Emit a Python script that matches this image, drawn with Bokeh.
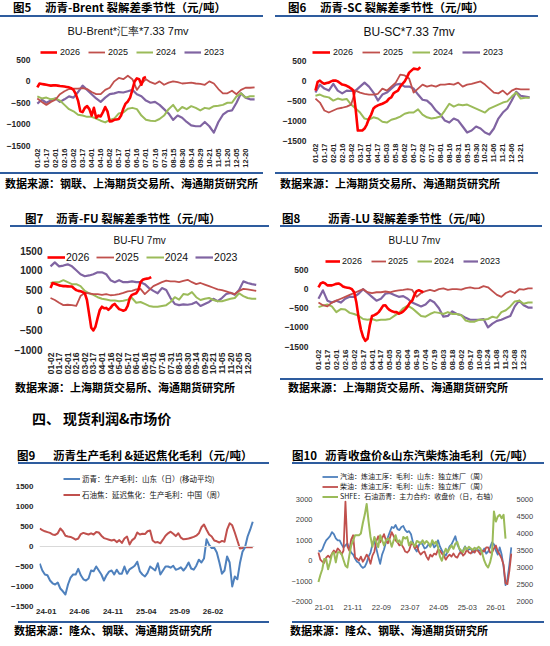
import math
import numpy as np
from bokeh.plotting import figure
from bokeh.models import Range1d, FixedTicker, Legend, LegendItem, Div, Span, LinearAxis
from bokeh.layouts import column, row
from bokeh.embed import file_html
from bokeh.resources import INLINE

# ---------------- data ----------------
labels_a = ["01-02", "01-17", "02-01", "02-16", "03-02", "03-17", "04-01", "04-16", "05-02", "05-17",
            "06-01", "06-16", "07-01", "07-16", "07-31", "08-15", "08-30", "09-14", "09-29", "10-21",
            "11-05", "11-20", "12-05", "12-20"]
labels_sc = ["01-02", "01-17", "02-01", "02-16", "03-02", "03-17", "04-01", "04-17", "05-03", "05-18",
             "06-02", "06-17", "07-02", "07-17", "08-01", "08-16", "08-31", "09-15", "09-30", "10-22",
             "11-06", "11-21", "12-06", "12-21"]
labels_lu = ["01-02", "01-17", "02-01", "02-16", "03-02", "03-17", "04-01", "04-17", "05-05", "05-20",
             "06-04", "06-19", "07-04", "07-19", "08-03", "08-18", "09-02", "09-17", "10-09", "10-24",
             "11-08", "11-23", "12-08", "12-23"]
year_names = ["2026", "2025", "2024", "2023"]

# Fig5 BU-Brent (2026 sampled every quarter tick, other years every half tick)
brent_2026 = [-140, -50, -60, -70, -80, -90, -100, -95, -90, -100, -110, -115, -120, -130, -140, -160,
              -200, -300, -450, -700, -720, -620, -580, -650, -800, -620, -850, -800, -820, -720, -600,
              -700, -940, -930, -900, -890, -880, -800, -640, -520, -470, -380, -200, 0, 70, 50, -80, 80, 100]
brent_2025 = [-400, -480, -550, -480, -430, -300, -230, -180, -170, -170, -160, -180, -250, -300, -300,
              -200, -150, 0, 80, 50, 130, 50, -200, -50, 50, -20, -60, 0, -80, -30, 0, -20, -50, -40, -30,
              -50, -60, -80, 0, -50, -180, -280, -280, -220, -300, -200, -150, -150, -140]
brent_2024 = [-350, -400, -380, -420, -400, -450, -550, -650, -700, -780, -800, -830, -830, -870, -920,
              -960, -900, -870, -750, -730, -640, -620, -650, -800, -900, -920, -930, -880, -800, -650,
              -550, -700, -600, -650, -580, -620, -680, -620, -640, -580, -570, -550, -500, -500, -350,
              -280, -380, -350, -350]
brent_2023 = [-520, -430, -500, -450, -400, -480, -420, -350, -380, -250, -100, -200, -300, -400, -480,
              -380, -300, -280, -250, -260, -230, -200, -300, -350, -450, -500, -480, -550, -650, -750,
              -900, -800, -850, -950, -1030, -1050, -1050, -950, -1050, -1200, -950, -780, -700, -680,
              -500, -280, -380, -420, -420]

# Fig6 BU-SC
sc_2026 = [-250, -30, 0, -50, -80, -60, -50, -20, 0, 0, -20, -60, -100, -110, -130, -160, -200, -250,
           -700, -1250, -1250, -1250, -1200, -1100, -950, -850, -700, -650, -620, -600, -580, -550, -520,
           -450, -420, -320, -280, -250, -150, -80, -20, 80, 200, 250, 300, 290, 280, 340]
sc_2025 = [-450, -550, -750, -800, -750, -700, -680, -650, -600, -250, -300, -330, -350, -350, -330, -200,
           -250, -150, -50, 150, 130, 50, -300, -200, -100, -150, -120, -150, -100, -100, -80, -100, -50,
           -150, -100, -80, -50, -20, -100, -200, -300, -320, -250, -350, -250, -200, -220, -220, -220]
sc_2024 = [-380, -350, -400, -420, -500, -450, -480, -460, -600, -700, -800, -950, -980, -920, -950, -1030,
           -1050, -980, -950, -900, -830, -800, -800, -720, -850, -920, -950, -930, -900, -750, -580, -650,
           -600, -620, -600, -650, -700, -750, -800, -700, -650, -600, -550, -520, -400, -300, -450, -430, -430]
sc_2023 = [-300, -100, -200, -250, -80, -250, -320, -250, -260, -250, -150, -50, -150, -300, -500, -350,
           -300, -200, -100, -80, -150, -150, -200, -350, -480, -500, -600, -750, -850, -1000, -1050, -950,
           -1000, -1150, -1300, -1250, -1150, -1200, -1300, -1350, -1200, -950, -800, -700, -500, -280,
           -380, -400, -420]

# Fig7 BU-FU
fu_2026 = [550, 680, 660, 640, 620, 610, 600, 600, 595, 590, 590, 540, 500, 480, 470, 450, 420, 250, -100,
           -450, -520, -420, -200, 0, 80, 40, 50, 0, 50, 120, 150, 80, 20, 0, -20, 0, 100, 300, 380, 400,
           420, 500, 700, 760, 780, 790, 800, 830]
fu_2025 = [300, 250, 180, 120, 130, 120, 100, 350, 430, 420, 400, 400, 380, 400, 370, 380, 400, 430, 470,
           480, 520, 530, 400, 500, 600, 650, 700, 740, 720, 720, 700, 730, 760, 700, 650, 680, 640, 600,
           560, 520, 500, 470, 430, 400, 480, 530, 520, 500, 480]
fu_2024 = [680, 700, 700, 750, 700, 650, 650, 600, 480, 420, 380, 320, 280, 260, 240, 240, 220, 230, 260,
           300, 180, 200, 150, 100, 80, 80, 100, 120, 200, 320, 260, 400, 380, 450, 320, 250, 280, 300,
           250, 220, 220, 250, 280, 300, 420, 350, 300, 280, 280]
fu_2023 = [1100, 1200, 1100, 1120, 1150, 1100, 1000, 900, 850, 870, 900, 950, 950, 900, 750, 700, 750,
           700, 700, 720, 700, 700, 650, 550, 480, 420, 550, 500, 300, 150, 120, 140, 130, 150, 200, 100,
           150, 200, 280, 220, 300, 400, 430, 380, 500, 720, 680, 650, 630]

# Fig8 BU-LU
lu_2026 = [50, 150, 180, 150, 100, 100, 100, 120, 140, 150, 120, 70, 50, 40, 30, 0, -80, -350, -750, -1050,
           -1250, -1350, -1300, -950, -700, -680, -650, -600, -520, -430, -420, -500, -550, -580, -600,
           -600, -640, -620, -580, -520, -450, -350, -300, -150, -50, -30, -50, -80]
lu_2025 = [-350, -420, -450, -350, -300, -250, -200, -150, -100, -50, 0, -80, -100, -80, -80, -60, -80,
           -50, -30, -20, 0, -20, -200, -100, -50, -20, -50, 0, 20, -20, 0, 0, -10, 30, 50, 20, 30, 80, 50,
           -50, -150, -200, -100, -50, -100, 0, -10, 20, 20]
lu_2024 = [-470, -430, -400, -450, -600, -520, -530, -620, -650, -700, -780, -800, -780, -820, -800, -800,
           -780, -700, -620, -500, -430, -500, -600, -700, -720, -650, -600, -620, -650, -600, -650, -650,
           -680, -820, -850, -850, -800, -800, -780, -720, -750, -600, -550, -450, -320, -300, -380, -350, -350]
lu_2023 = [-250, -30, -300, -350, -300, -350, -250, -200, -200, -120, 0, -100, -200, -300, -250, -120, -100,
           -150, -200, -180, -250, -350, -400, -450, -400, -280, -350, -500, -720, -700, -580, -650, -680,
           -750, -800, -800, -800, -780, -1000, -900, -830, -800, -750, -700, -450, -300, -420, -480, -480]

# Fig9 (months from 2024-01)
c9_start, c9_step = -0.96, 0.3843
c9_labels = {0: "24-01", 5: "24-06", 10: "24-11", 15: "25-04", 20: "25-09", 25: "26-02"}
c9_names = ["沥青：生产毛利：山东（日）(移动平均)", "石油焦：延迟焦化：生产毛利：中国（周）"]
c9_asphalt = [-430, -600, -700, -720, -850, -920, -950, -900, -1050, -1120, -1200, -950, -780, -700, -700,
              -560, -720, -820, -850, -800, -600, -620, -500, -600, -700, -850, -720, -630, -600, -700,
              -580, -680, -680, -500, -680, -570, -530, -480, -380, -620, -700, -750, -660, -500, -550,
              -600, -420, -700, -600, -500, -500, -530, -480, -580, -560, -520, -600, -520, -400, -550,
              -580, -480, -330, -400, -300, 180, 40, -40, -30, -150, -400, -680, -600, -250, -400, -1000,
              -750, -820, -420, -130, -20, 250, 420, 620]
c9_coke = [450, 410, 380, 360, 340, 300, 290, 330, 450, 380, 270, 250, 240, 210, 170, 200, 310, 340, 320,
           300, 330, 300, 360, 350, 270, 210, 190, 170, 150, 170, 110, 160, 90, 200, 250, 50, 160, 210, 350,
           300, 320, 310, 380, 400, 150, 100, 110, 80, 170, 270, 330, 370, 320, 260, 330, 220, 180, 190,
           200, 220, 240, 270, 330, 480, 550, 420, 300, 250, 150, 130, 100, 140, 120, 420, 580, 530, 350,
           150, -50, -40, -20, -10, -20, -20]

# Fig10 (months from 2021-01)
c10_start, c10_step = -2.02, 0.674
c10_labels = {0: "21-01", 10: "21-11", 20: "22-09", 30: "23-07", 40: "24-05", 50: "25-03", 60: "26-01"}
c10_names = ["汽油：炼油工序：毛利：山东：独立炼厂（周）", "柴油：炼油工序：毛利：山东：独立炼厂（周）",
             "SHFE：石油沥青：主力合约：收盘价（日，右轴）"]
c10_gasoline = [500, 450, 550, 800, 1000, 1100, 1200, 1400, 1300, 1100, 1000, 1000, 800, 650, 750, 850, 600,
                400, 300, 100, -50, -100, -250, -350, -300, -100, 200, 400, 800, 950, 600, 200, -150, 300,
                550, 900, 1150, 1400, 1650, 1600, 1750, 1550, 1500, 1650, 1700, 1500, 1400, 1450, 1300, 900,
                600, 450, 750, 900, 800, 600, 650, 800, 700, 900, 650, 750, 1000, 700, 500, 350, 250, 450,
                700, 800, 1000, 1200, 800, 600, 350, 500, 700, 500, 550, 600, 400, 500, 600, 500, 500, 400,
                600, 350, 450, 650, 900, 800, 500, 300, 650, 300, -300, -1200, -900, -200, 650]
c10_diesel = [400, 50, -50, -100, 150, 250, 150, 350, 500, 400, 600, 500, 300, 500, 2900, 700, 500, 1050,
              1250, 150, 100, 0, 200, -50, 100, 300, 150, -150, 250, 450, 950, 1200, 900, 1100, 1300, 1000,
              850, 1100, 1400, 1200, 1000, 900, 750, 800, 650, 450, 400, 500, 800, 850, 600, 750, 450, 300,
              400, 450, 200, 50, 300, 200, 350, 300, 550, 500, 350, 250, 50, 200, 300, 200, 350, 200, 150,
              350, 450, 250, 350, 550, 400, 350, 500, 400, 550, 450, 300, 500, 450, 650, 650, 400, 400, 600,
              750, 450, 300, 100, -200, -1100, -1150, -500, 350]
c10_bitumen = [2575, 2780, 2950, 3250, 3250, 2950, 3150, 3400, 3450, 3150, 3450, 3450, 3400, 3220, 3050,
               3000, 3350, 3650, 3800, 3950, 3950, 3950, 4000, 4300, 4550, 4870, 4350, 3900, 3610, 3900,
               3750, 3600, 3950, 3810, 3650, 3800, 3850, 3800, 3610, 3800, 3950, 3750, 3800, 3660, 3900,
               3850, 3900, 3650, 3760, 3700, 3620, 3780, 3750, 3700, 3800, 3700, 3780, 3720, 3610, 3800,
               3700, 3760, 3600, 3320, 3200, 3400, 3550, 3450, 3560, 3650, 3550, 3700, 3750, 3560, 3500,
               3450, 3600, 3530, 3610, 3560, 3520, 3580, 3530, 3610, 3560, 3400, 3200, 3070, 3000, 3150,
               3400, 4650, 4350, 4500, 4550, 4450, 4550, 3850]

# ---------------- styling ----------------
RULE = "#2E5C9E"
NUM_FONT = "Liberation Sans"
CJK_FONT = "Noto Sans CJK SC"
YEAR_COLORS = ["#FF0000", "#C0504D", "#9BBB59", "#8064A2"]
YEAR_WIDTHS = [2.6, 1.8, 2.0, 2.2]
TICK_COLOR = "#262626"


def base_style(p):
    p.outline_line_color = None
    p.xgrid.visible = False
    p.ygrid.visible = False
    p.background_fill_color = "white"
    p.border_fill_color = "white"
    for ax in p.axis:
        ax.axis_line_color = None
        ax.major_tick_line_color = None
        ax.minor_tick_line_color = None


def seasonal(title, xlabels, s26, s25, s24, s23, height, fl, fr, ft, fb, xr, yr, yticks,
             ysize, xsize, ystand, tsize, toff, lx, ly, lglyph, lspace, lsize, lstand):
    p = figure(width=275, height=height, output_backend="svg", toolbar_location=None,
               x_range=Range1d(*xr), y_range=Range1d(*yr),
               min_border_left=fl, min_border_right=275 - fr,
               min_border_top=ft, min_border_bottom=height - fb)
    base_style(p)
    p.title.text = title
    p.title.align = "left"
    p.title.offset = toff
    p.title.text_font = NUM_FONT
    p.title.text_font_size = f"{tsize}px"
    p.title.text_font_style = "normal"
    p.title.text_color = "#111111"

    series = [s26, s25, s24, s23]
    steps = [0.25, 0.5, 0.5, 0.5]
    rends = [None] * 4
    for i in [3, 2, 1, 0]:
        xs = np.arange(len(series[i])) * steps[i]
        rends[i] = p.line(xs, series[i], line_color=YEAR_COLORS[i], line_width=YEAR_WIDTHS[i],
                          line_join="round")
    leg = Legend(items=[LegendItem(label=year_names[i], renderers=[rends[i]]) for i in range(4)],
                 location=(lx, ly), orientation="horizontal", border_line_color=None,
                 background_fill_alpha=0, padding=0, margin=0, spacing=lspace,
                 glyph_width=lglyph, glyph_height=10, label_height=10, label_standoff=lstand,
                 label_text_font=NUM_FONT, label_text_font_size=f"{lsize}px", label_text_color="#111111")
    p.add_layout(leg)

    p.xaxis.ticker = FixedTicker(ticks=list(range(len(xlabels))))
    p.xaxis.major_label_overrides = {i: s for i, s in enumerate(xlabels)}
    p.xaxis.major_label_orientation = math.pi / 2
    p.xaxis.major_label_text_font = NUM_FONT
    p.xaxis.major_label_text_font_size = f"{xsize}px"
    p.xaxis.major_label_text_font_style = "bold"
    p.xaxis.major_label_text_color = TICK_COLOR
    p.xaxis.major_label_standoff = 3
    p.xaxis.major_tick_out = 0
    p.yaxis.ticker = FixedTicker(ticks=yticks)
    p.yaxis.major_label_text_font = NUM_FONT
    p.yaxis.major_label_text_font_size = f"{ysize}px"
    p.yaxis.major_label_text_font_style = "bold"
    p.yaxis.major_label_text_color = TICK_COLOR
    p.yaxis.major_label_standoff = ystand
    p.yaxis.major_tick_out = 0
    return p


def span_html(txt, left, cy, size, weight="bold", color="#000"):
    lh = int(round(size * 1.4))
    top = cy - lh / 2
    return (f'<span style="position:absolute;left:{left}px;top:{top}px;font-size:{size}px;'
            f'line-height:{lh}px;font-weight:{weight};font-family:\'{CJK_FONT}\',sans-serif;'
            f'color:{color};white-space:nowrap;">{txt}</span>')


def rule_html(x0, x1, y):
    return (f'<div style="position:absolute;left:{x0}px;top:{y}px;width:{x1 - x0}px;height:2px;'
            f'background:{RULE};"></div>')


def box(height, inner, width=275):
    return Div(text=f'<div style="position:relative;width:{width}px;height:{height}px;overflow:hidden;">'
                    f'{inner}</div>', width=width, height=height, margin=(0, 0, 0, 0))


HS = 11.5
SS = 11

# ---------------- row 1 ----------------
h5 = box(17, span_html("图5", 13, 7, HS) + span_html("沥青-Brent 裂解差季节性（元/吨）", 45, 7, HS)
         + rule_html(0, 263, 15))
p5 = seasonal("BU-Brent*汇率*7.33 7mv", labels_a, brent_2026, brent_2025, brent_2024, brent_2023,
              155, 35, 255, 21, 128, (-0.2, 24.1), (-1500, 932), [-1500, -1000, -500, 0, 500],
              8.5, 7.5, 5, 11, 32, 5, 88, 17, 8, 9, 3)
s5 = box(28, rule_html(0, 263, 0) + span_html("数据来源：钢联、上海期货交易所、海通期货研究所", 5, 11, SS))

h6 = box(17, span_html("图6", 13, 7, HS) + span_html("沥青-SC 裂解差季节性（元/吨）", 45, 7, HS)
         + rule_html(0, 263, 15))
p6 = seasonal("BU-SC*7.33 7mv", labels_sc, sc_2026, sc_2025, sc_2024, sc_2023,
              155, 37, 255, 21, 123, (-0.33, 24.1), (-1500, 929), [-1500, -1000, -500, 0, 500],
              8.5, 7.5, 6, 12, 51, 0, 83, 18, 9, 9, 3)
s6 = box(28, rule_html(0, 263, 0) + span_html("数据来源：上海期货交易所、海通期货研究所", 5, 11, SS))

# ---------------- row 2 ----------------
h7 = box(27, span_html("图7", 25, 18, HS) + span_html("沥青-FU 裂解差季节性（元/吨）", 56, 18, HS)
         + rule_html(10, 269, 25))
p7 = seasonal("BU-FU 7mv", labels_a, fu_2026, fu_2025, fu_2024, fu_2023,
              150, 46, 260, 20, 123, (-0.47, 24.5), (-1000, 1500), [-1000, -500, 0, 500, 1000, 1500],
              10, 8.5, 4, 10, 67, 1, 86, 18, 7, 10.5, 1)
s7 = box(23, span_html("数据来源：上海期货交易所、海通期货研究所", 15, 10, SS))

h8 = box(27, span_html("图8", 7, 18, HS) + span_html("沥青-LU 裂解差季节性（元/吨）", 53, 18, HS)
         + rule_html(5, 267, 25))
p8 = seasonal("BU-LU 7mv", labels_lu, lu_2026, lu_2025, lu_2024, lu_2023,
              150, 37, 258, 21, 119, (-0.67, 24.1), (-1500, 1013), [-1500, -1000, -500, 0, 500],
              8.5, 8, 4, 10, 76, 13, 80, 15, 9, 9, 2)
s8 = box(23, rule_html(5, 268, 1) + span_html("数据来源：上海期货交易所、海通期货研究所", 13, 10, SS))

# ---------------- section heading ----------------
heading = box(45, span_html("四、", 32, 18, 14) + span_html("现货利润&amp;市场价", 63, 18, 14), width=550)

# ---------------- Fig9 ----------------
h9 = box(19, span_html("图9", 17, 10, HS) + span_html("沥青生产毛利 &amp;延迟焦化毛利（元/吨）", 53, 10, HS)
         + rule_html(18, 269, 17))
p9 = figure(width=275, height=156, output_backend="svg", toolbar_location=None,
            x_range=Range1d(-1.0, 31.2), y_range=Range1d(-1500, 1900),
            min_border_left=39, min_border_right=21, min_border_top=6, min_border_bottom=14)
base_style(p9)
p9.add_layout(Span(location=0, dimension="width", line_color="#D9D9D9", line_width=1))
x9 = c9_start + np.arange(len(c9_asphalt)) * c9_step
r9b = p9.line(x9, c9_coke, line_color="#C0504D", line_width=2.0, line_join="round")
r9a = p9.line(x9, c9_asphalt, line_color="#4F81BD", line_width=2.0, line_join="round")
leg9 = Legend(items=[LegendItem(label=c9_names[0], renderers=[r9a]),
                     LegendItem(label=c9_names[1], renderers=[r9b])],
              location=(24, 106), orientation="vertical", border_line_color=None,
              background_fill_alpha=0, padding=0, margin=0, spacing=5,
              glyph_width=17, glyph_height=11, label_height=11, label_standoff=2,
              label_text_font=CJK_FONT, label_text_font_size="7.5px", label_text_color="#111111")
p9.add_layout(leg9)
p9.xaxis.ticker = FixedTicker(ticks=list(c9_labels.keys()))
p9.xaxis.major_label_overrides = c9_labels
p9.yaxis.ticker = FixedTicker(ticks=[-1500, -1000, -500, 0, 500, 1000, 1500])
for ax in p9.axis:
    ax.major_label_text_font = NUM_FONT
    ax.major_label_text_font_size = "8px"
    ax.major_label_text_font_style = "bold"
    ax.major_label_text_color = TICK_COLOR
    ax.major_tick_out = 0
p9.yaxis.major_label_standoff = 6
p9.xaxis.major_label_standoff = 2
s9 = box(26, rule_html(18, 269, 1) + span_html("数据来源：隆众、钢联、海通期货研究所", 14, 10, SS))

# ---------------- Fig10 ----------------
h10 = box(19, span_html("图10", 17, 10, HS) + span_html("沥青收盘价&amp;山东汽柴炼油毛利（元/吨）", 50, 10, HS)
          + rule_html(17, 269, 17))
p10 = figure(width=275, height=156, output_backend="svg", toolbar_location=None,
             x_range=Range1d(-2.7, 65.8), y_range=Range1d(-2000, 4618),
             min_border_left=41, min_border_right=38, min_border_top=2, min_border_bottom=19)
p10.extra_y_ranges = {"r": Range1d(2000, 5971)}
p10.add_layout(LinearAxis(y_range_name="r"), "right")
base_style(p10)
x10 = c10_start + np.arange(len(c10_gasoline)) * c10_step
x10g = c10_start + np.arange(len(c10_bitumen)) * c10_step
r10a = p10.line(x10, c10_gasoline, line_color="#4F81BD", line_width=1.8, line_join="round")
r10b = p10.line(x10, c10_diesel, line_color="#C0504D", line_width=1.8, line_join="round")
r10c = p10.line(x10g, c10_bitumen, line_color="#9BBB59", line_width=2.0, line_join="round", y_range_name="r")
leg10 = Legend(items=[LegendItem(label=c10_names[0], renderers=[r10a]),
                      LegendItem(label=c10_names[1], renderers=[r10b]),
                      LegendItem(label=c10_names[2], renderers=[r10c])],
               location=(6, 100), orientation="vertical", border_line_color=None,
               background_fill_alpha=0, padding=0, margin=0, spacing=-2,
               glyph_width=16, glyph_height=7, label_height=7, label_standoff=2,
               label_text_font=CJK_FONT, label_text_font_size="7px", label_text_color="#111111")
p10.add_layout(leg10)
p10.xaxis.ticker = FixedTicker(ticks=list(c10_labels.keys()))
p10.xaxis.major_label_overrides = c10_labels
p10.yaxis[0].ticker = FixedTicker(ticks=[-2000, -1000, 0, 1000, 2000, 3000])
p10.yaxis[1].ticker = FixedTicker(ticks=[2000, 2500, 3000, 3500, 4000, 4500, 5000])
for ax in p10.axis:
    ax.major_label_text_font = NUM_FONT
    ax.major_label_text_font_size = "7.5px"
    ax.major_label_text_color = "#404040"
    ax.major_tick_out = 0
    ax.major_label_standoff = 4
p10.xaxis.major_label_standoff = 3
s10 = box(26, rule_html(17, 269, 1) + span_html("数据来源：隆众、钢联、海通期货研究所", 15, 10, SS))

layout = column(
    row(column(h5, p5, s5, spacing=0), column(h6, p6, s6, spacing=0), spacing=0),
    row(column(h7, p7, s7, spacing=0), column(h8, p8, s8, spacing=0), spacing=0),
    heading,
    row(column(h9, p9, s9, spacing=0), column(h10, p10, s10, spacing=0), spacing=0),
    spacing=0,
)

open("out.html", "w").write(file_html(layout, INLINE))
